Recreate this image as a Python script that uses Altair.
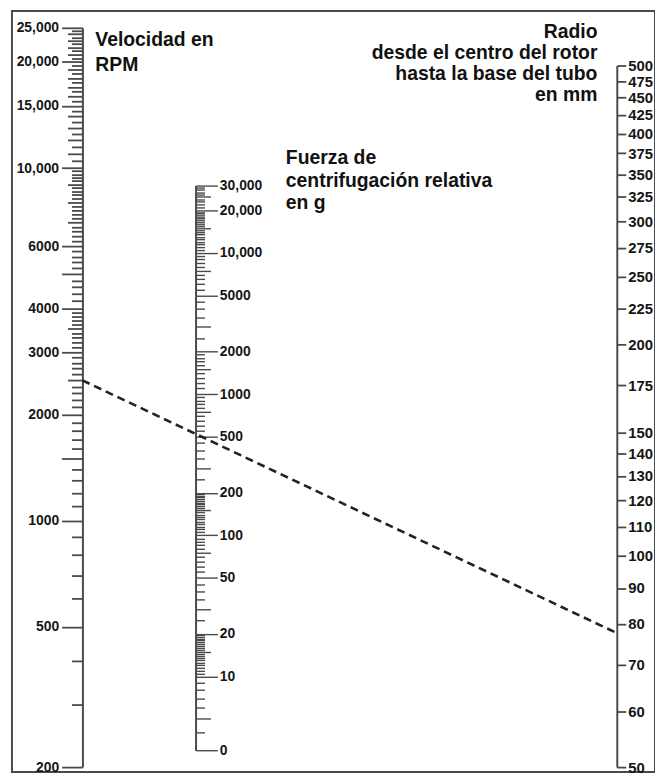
import altair as alt
import pandas as pd
import numpy as np

# ---------------- data ----------------
# Left scale: speed in RPM (log)
rpm_labeled = [25000, 20000, 15000, 10000, 6000, 4000, 3000, 2000, 1000, 500, 200]
rpm_label_text = ["25,000", "20,000", "15,000", "10,000", "6000", "4000", "3000",
                  "2000", "1000", "500", "200"]
rpm_long = [5000, 1500]
rpm_medium = [11000, 12000, 13000, 14000, 16000, 17000, 18000, 19000, 21000, 22000,
              23000, 24000, 7000, 8000, 9000, 2500, 3500]
rpm_tick_runs = [(10000, 25000, 500), (4000, 10000, 200), (1000, 4000, 100), (200, 1000, 100)]

# Middle scale: relative centrifugal force in g (log)
rcf_labeled = [30000, 20000, 10000, 5000, 2000, 1000, 500, 200, 100, 50, 20, 10, 3]
rcf_label_text = ["30,000", "20,000", "10,000", "5000", "2000", "1000", "500", "200",
                  "100", "50", "20", "10", "0"]
rcf_medium = [25000, 15000, 7500, 3000, 1500, 750, 300, 150, 75, 30, 15, 5]
rcf_tick_runs = [(20000, 30000, 1000), (10000, 20000, 500), (2000, 10000, 500),
                 (1000, 2000, 100), (200, 1000, 50), (100, 200, 5), (20, 100, 5),
                 (10, 20, 0.5), (3, 10, 1)]

# Right scale: radius in mm (log)
radius_labeled = [500, 475, 450, 425, 400, 375, 350, 325, 300, 275, 250, 225, 200,
                  175, 150, 140, 130, 120, 110, 100, 90, 80, 70, 60, 50]

# Dashed reading line: from 2500 RPM on the left scale to r ~ 77 mm on the right
# (right end expressed on the RPM scale's units)
line_pos = [0, 1]
line_rpm = [2500, 480]


def expand(runs):
    vals = set()
    for a, b, s in runs:
        n = int(round((b - a) / s))
        for i in range(n + 1):
            vals.add(round(a + i * s, 3))
    return sorted(vals)


def label_expr(vals, texts):
    s = "''"
    for v, t in reversed(list(zip(vals, texts))):
        s = f"datum.value == {v} ? '{t}' : ({s})"
    return s


def js_list(vals):
    return "[" + ",".join(str(v) for v in vals) + "]"


rpm_ticks = sorted(set(expand(rpm_tick_runs)) | set(rpm_labeled))
rcf_ticks = sorted(set(expand(rcf_tick_runs)) | set(rcf_labeled))

FONT = "Liberation Sans"
W, H = 648, 767

common_axis = dict(
    title="", grid=False, labelOverlap=False, labelBound=False, labelFlush=False,
    labelFont=FONT, labelFontWeight="bold", labelColor="#151515",
    domainColor="#4a4a4a", domainWidth=2, tickColor="#4a4a4a",
)

rpm_scale = alt.Scale(type="log", domain=[200, 25000], range=[762, 17])
rcf_scale = alt.Scale(type="log", domain=[3, 30000], range=[745, 176])
rad_scale = alt.Scale(type="log", domain=[50, 500], range=[762, 55])

rpm_axis = alt.Axis(
    orient="left", offset=-71, values=rpm_ticks,
    labelExpr=label_expr(rpm_labeled, rpm_label_text),
    tickSize={"condition": [
        {"test": f"indexof({js_list(rpm_labeled + rpm_long)}, datum.value) >= 0", "value": 21},
        {"test": f"indexof({js_list(rpm_medium)}, datum.value) >= 0", "value": 15}],
        "value": 11},
    tickWidth=1.8, labelPadding=3, labelFontSize=14, **common_axis)

rcf_axis = alt.Axis(
    orient="right", offset=-463, values=rcf_ticks,
    labelExpr=label_expr(rcf_labeled, rcf_label_text),
    tickSize={"condition": [
        {"test": f"indexof({js_list(rcf_labeled)}, datum.value) >= 0", "value": 22},
        {"test": f"indexof({js_list(rcf_medium)}, datum.value) >= 0", "value": 15}],
        "value": 9},
    tickWidth=1.4, labelPadding=2, labelFontSize=14, **common_axis)

rad_axis = alt.Axis(
    orient="right", offset=-38.5, values=radius_labeled,
    labelExpr="datum.value", tickSize=9, tickWidth=1.8,
    labelPadding=2, labelFontSize=15, **common_axis)

rpm_layer = alt.Chart(pd.DataFrame({"v": rpm_ticks})).mark_point(opacity=0, size=1).encode(
    y=alt.Y("v:Q", scale=rpm_scale, axis=rpm_axis))
rcf_layer = alt.Chart(pd.DataFrame({"v": rcf_ticks})).mark_point(opacity=0, size=1).encode(
    y=alt.Y("v:Q", scale=rcf_scale, axis=rcf_axis))
rad_layer = alt.Chart(pd.DataFrame({"v": radius_labeled})).mark_point(opacity=0, size=1).encode(
    y=alt.Y("v:Q", scale=rad_scale, axis=rad_axis))

line_layer = alt.Chart(pd.DataFrame({"pos": line_pos, "rpm": line_rpm})).mark_line(
    strokeDash=[8, 5], strokeWidth=2.6, color="#222222").encode(
    x=alt.X("pos:Q", scale=alt.Scale(domain=[0, 1], range=[71, 609.5]), axis=None),
    y=alt.Y("rpm:Q", scale=rpm_scale, axis=None))

dummy = pd.DataFrame({"k": [0]})
title_style = dict(font=FONT, fontSize=19.5, fontWeight="bold", color="#111111",
                   baseline="alphabetic", lineBreak="\n")
t_left = alt.Chart(dummy).mark_text(text="Velocidad en\nRPM", align="left",
                                    lineHeight=26, **title_style).encode(
    x=alt.value(84), y=alt.value(35))
t_mid = alt.Chart(dummy).mark_text(text="Fuerza de\ncentrifugación relativa\nen g",
                                   align="left", lineHeight=23, **title_style).encode(
    x=alt.value(276), y=alt.value(154))
t_right = alt.Chart(dummy).mark_text(
    text="Radio\ndesde el centro del rotor\nhasta la base del tubo\nen mm",
    align="right", lineHeight=21.2, **title_style).encode(
    x=alt.value(590), y=alt.value(27))

chart = alt.layer(rpm_layer, rcf_layer, rad_layer, line_layer, t_left, t_mid, t_right).resolve_scale(
    y="independent").properties(
    width=W, height=H,
    autosize=alt.AutoSizeParams(type="none"),
    padding={"left": 4, "top": 0, "right": 0, "bottom": 0},
).configure_view(stroke="#4a4a4a", strokeWidth=2)

chart.save("out.html", embed_options={"renderer": "svg", "actions": False})
